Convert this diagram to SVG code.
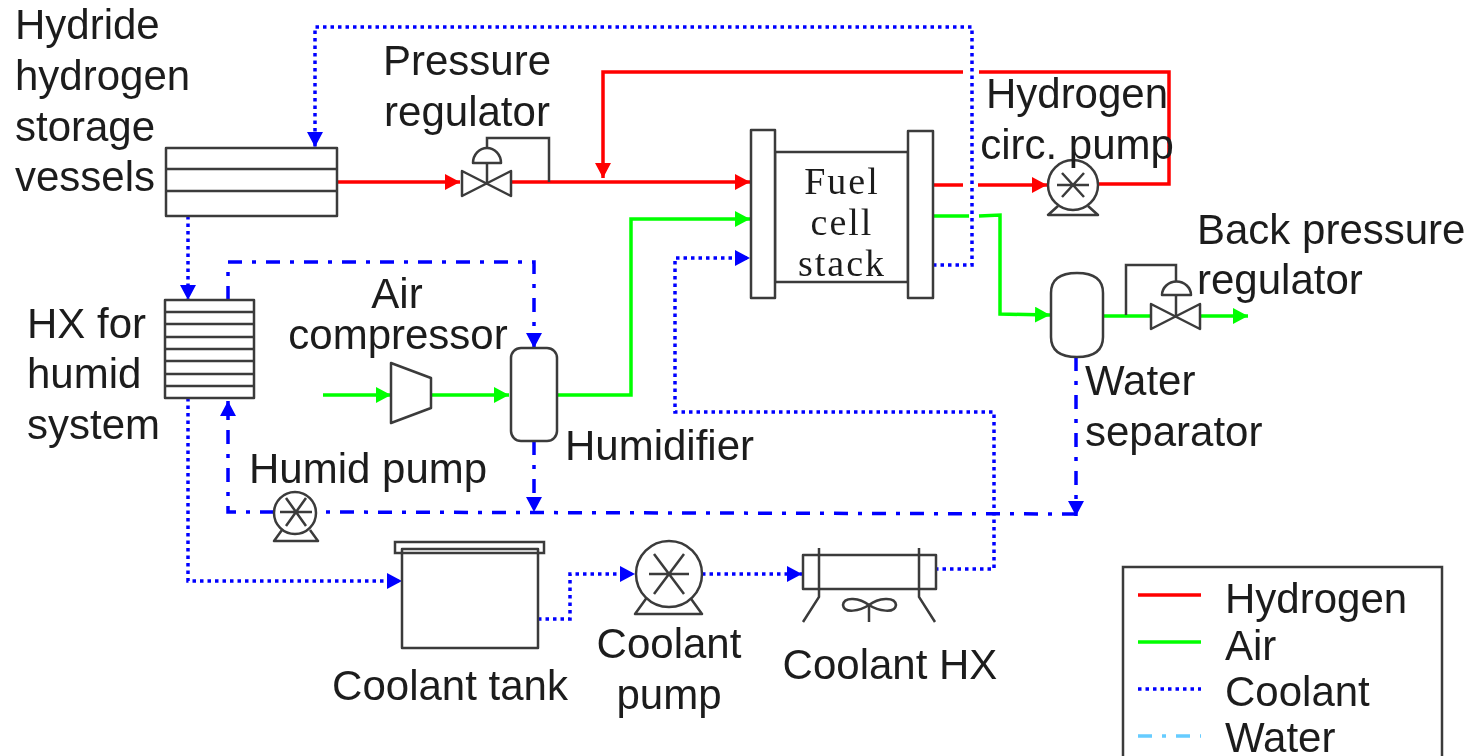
<svg xmlns="http://www.w3.org/2000/svg" width="1472" height="756" viewBox="0 0 1472 756">
<style>
g{filter:url(#soft)}
text{font-family:"Liberation Sans",Arial,sans-serif;font-size:42px;fill:#1c1c1c;transform:translateY(1px)}
.serif{font-family:"Liberation Serif","Times New Roman",serif;font-size:38px;letter-spacing:2px;text-anchor:middle}
.m{text-anchor:middle}
.s{fill:#fff;stroke:#3a3a3a;stroke-width:2.5;stroke-linejoin:round}
.n{fill:none;stroke:#3a3a3a;stroke-width:2.5}
.h{fill:none;stroke:#ff0000;stroke-width:3.5}
.a{fill:none;stroke:#00ff00;stroke-width:3.5}
.c{fill:none;stroke:#0000ff;stroke-width:3.5;stroke-dasharray:3.5 4}
.d{fill:none;stroke:#0000ff;stroke-width:3.5;stroke-dasharray:14 10 4 10}
</style>
<defs>
<filter id="soft" x="-5%" y="-5%" width="110%" height="110%" filterUnits="objectBoundingBox"><feGaussianBlur stdDeviation="0.55"/></filter>
<marker id="mr" markerUnits="userSpaceOnUse" markerWidth="17" markerHeight="16" refX="15" refY="8" orient="auto"><path d="M0 0L15 8L0 16z" fill="#ff0000"/></marker>
<marker id="mg" markerUnits="userSpaceOnUse" markerWidth="17" markerHeight="16" refX="15" refY="8" orient="auto"><path d="M0 0L15 8L0 16z" fill="#00ff00"/></marker>
<marker id="mb" markerUnits="userSpaceOnUse" markerWidth="17" markerHeight="16" refX="15" refY="8" orient="auto"><path d="M0 0L15 8L0 16z" fill="#0000ff"/></marker>
</defs>

<g id="connectors">
<path class="h" d="M337 182H460" marker-end="url(#mr)"/>
<path class="h" d="M511 182H750" marker-end="url(#mr)"/>
<path class="h" d="M963 72H603V178" marker-end="url(#mr)"/>
<path class="h" d="M979 72H1169V184H1098"/>
<path class="h" d="M933 185H963"/>
<path class="h" d="M978 185H1047" marker-end="url(#mr)"/>
<path class="a" d="M323 395H391" marker-end="url(#mg)"/>
<path class="a" d="M431 395H509" marker-end="url(#mg)"/>
<path class="a" d="M557 395H631V219H750" marker-end="url(#mg)"/>
<path class="a" d="M932 216H969"/>
<path class="a" d="M979 216L1000 215V314L1050 315" marker-end="url(#mg)"/>
<path class="a" d="M1103 316H1151"/>
<path class="a" d="M1200 316H1248" marker-end="url(#mg)"/>
<path class="c" d="M933 265H972V27H315V147" marker-end="url(#mb)"/>
<path class="c" d="M188 216V300" marker-end="url(#mb)"/>
<path class="c" d="M188 398V581H402" marker-end="url(#mb)"/>
<path class="c" d="M538 619H570V574H635" marker-end="url(#mb)"/>
<path class="c" d="M702 574H802" marker-end="url(#mb)"/>
<path class="c" d="M935 569H994V412H675V258H750" marker-end="url(#mb)"/>
<path class="d" d="M228 300V262H534V348" marker-end="url(#mb)"/>
<path class="d" d="M534 441V512" marker-end="url(#mb)"/>
<path class="d" d="M1076 357V516" marker-end="url(#mb)"/>
<path class="d" d="M1076 514L318 512"/>
<path class="d" d="M274 512H228V401" marker-end="url(#mb)"/>
</g>

<g id="hydride-vessels">
<rect class="s" x="166" y="148" width="171" height="68"/>
<path class="n" d="M166 169H337M166 191H337"/>
<text x="15" y="38">Hydride</text><text x="15" y="89">hydrogen</text><text x="15" y="140">storage</text><text x="15" y="190">vessels</text>
</g>

<g id="pressure-regulator">
<path class="n" d="M487 148V138H549V182"/>
<path class="s" d="M462 171L511 196V171L462 196z"/>
<path class="s" d="M473 163A14 15 0 0 1 501 163z"/>
<path class="n" d="M487 163V183"/>
<text x="467" y="74" class="m">Pressure</text><text x="467" y="125" class="m">regulator</text>
</g>

<g id="fuel-cell-stack">
<rect class="s" x="775" y="152" width="133" height="130"/>
<rect class="s" x="751" y="130" width="24" height="168"/>
<rect class="s" x="908" y="131" width="25" height="167"/>
<text x="842" y="193" class="serif">Fuel</text><text x="842" y="234" class="serif">cell</text><text x="842" y="275" class="serif">stack</text>
</g>

<g id="hydrogen-circ-pump">
<path class="s" d="M1058 206L1048 215H1098L1088 206"/>
<circle class="s" cx="1073" cy="185" r="25"/>
<path class="n" d="M1057 185H1089M1062 173L1084 197M1084 173L1062 197"/>
<text x="1077" y="107" class="m">Hydrogen</text><text x="1077" y="158" class="m">circ. pump</text>
</g>

<g id="water-separator">
<path class="s" d="M1051 293Q1051 273 1077 273Q1103 273 1103 293V337Q1103 357 1077 357Q1051 357 1051 337z"/>
<text x="1085" y="394">Water</text><text x="1085" y="445">separator</text>
</g>

<g id="back-pressure-regulator">
<path class="n" d="M1176 282V265H1126V315"/>
<path class="s" d="M1151 304L1200 329V304L1151 329z"/>
<path class="s" d="M1162 295A14 13 0 0 1 1191 295z"/>
<path class="n" d="M1176 295V317"/>
<text x="1197" y="243">Back pressure</text><text x="1197" y="293">regulator</text>
</g>

<g id="hx-humid">
<rect class="s" x="165" y="300" width="89" height="98"/>
<path class="n" d="M165 312H254M165 324H254M165 337H254M165 349H254M165 361H254M165 374H254M165 386H254"/>
<text x="27" y="337">HX for</text><text x="27" y="387">humid</text><text x="27" y="438">system</text>
</g>

<g id="air-compressor">
<path class="s" d="M391 363L431 378V408L391 423z"/>
<text x="397" y="307" class="m">Air</text><text x="398" y="348" class="m">compressor</text>
</g>

<g id="humidifier">
<rect class="s" x="511" y="348" width="46" height="93" rx="10"/>
<text x="565" y="459">Humidifier</text>
</g>

<g id="humid-pump">
<path class="s" d="M282 530L274 541H318L310 530"/>
<circle class="s" cx="295" cy="513" r="21"/>
<path class="n" d="M280 512H312M286 498L306 526M306 498L286 526"/>
<text x="249" y="482">Humid pump</text>
</g>

<g id="coolant-tank">
<rect class="s" x="402" y="549" width="136" height="99"/>
<rect class="n" x="395" y="542" width="149" height="11"/>
<text x="450" y="699" class="m">Coolant tank</text>
</g>

<g id="coolant-pump">
<path class="s" d="M648 596L635 614H702L689 596"/>
<circle class="s" cx="669" cy="574" r="33"/>
<path class="n" d="M649 574H689M654 554L684 594M684 554L654 594"/>
<text x="669" y="657" class="m">Coolant</text><text x="669" y="708" class="m">pump</text>
</g>

<g id="coolant-hx">
<rect class="s" x="803" y="555" width="133" height="34"/>
<path class="n" d="M819 548V597L803 622M919 548V597L935 622M869 605V622"/>
<path class="n" d="M869 605C860 598 844 596 843 605C844 614 860 611 869 605C878 598 895 596 896 605C895 614 878 611 869 605z"/>
<text x="890" y="678" class="m">Coolant HX</text>
</g>

<g id="legend">
<rect class="n" x="1123" y="567" width="319" height="200"/>
<path class="h" d="M1138 595H1201"/>
<path class="a" d="M1138 642H1201"/>
<path class="c" d="M1138 689H1201"/>
<path style="fill:none;stroke:#66ccff;stroke-width:3.5;stroke-dasharray:14 10 4 10" d="M1138 736H1201"/>
<text x="1225" y="612">Hydrogen</text><text x="1225" y="659">Air</text><text x="1225" y="705">Coolant</text><text x="1225" y="751">Water</text>
</g>
</svg>
